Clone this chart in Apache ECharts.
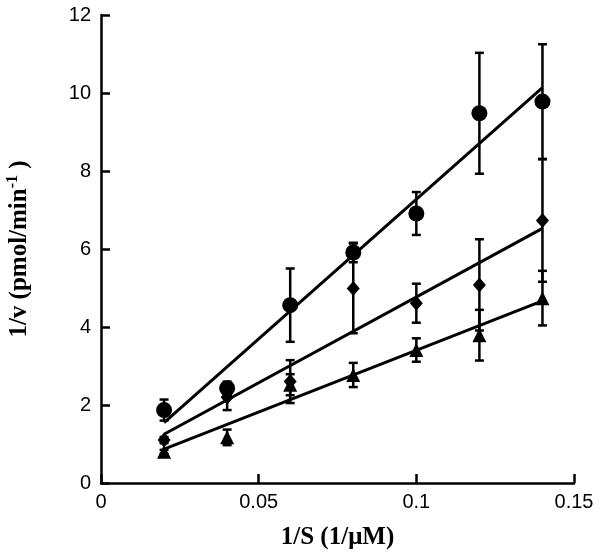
<!DOCTYPE html>
<html>
<head>
<meta charset="utf-8">
<script src="https://cdn.jsdelivr.net/npm/echarts@6/dist/echarts.min.js"></script>
<style>html,body{margin:0;padding:0;background:#fff;}#c{width:600px;height:555px;}</style>
</head>
<body>
<div id="c"></div>
<script>
// Data
var xValues = [0.02, 0.04, 0.06, 0.08, 0.10, 0.12, 0.14];
var circleY = [1.87, 2.43, 4.56, 5.91, 6.91, 9.48, 9.78];
var circleErr = [0.27, 0.17, 0.94, 0.25, 0.55, 1.55, 1.47];
var diamondY = [1.10, 2.20, 2.60, 4.99, 4.61, 5.08, 6.73];
var diamondErr = [0.08, 0.33, 0.55, 1.15, 0.50, 1.17, 1.57];
var triangleY = [0.80, 1.17, 2.52, 2.77, 3.41, 3.79, 4.74];
var triangleErr = [0.05, 0.20, 0.27, 0.31, 0.30, 0.65, 0.70];
var fitX = [0.02, 0.14];
var circleFit = [1.55, 10.14];
var diamondFit = [1.25, 6.53];
var triangleFit = [0.87, 4.67];
var xTicks = [0, 0.05, 0.1, 0.15];
var yTicks = [0, 2, 4, 6, 8, 10, 12];

function pts(xs, ys) { return xs.map(function (x, i) { return [x, ys[i]]; }); }
function errPts(xs, ys, es) { return xs.map(function (x, i) { return [x, ys[i], es[i]]; }); }

function renderErr(params, api) {
  var x = api.value(0), y = api.value(1), e = api.value(2);
  var t = api.coord([x, y + e]), b = api.coord([x, y - e]);
  var hw = 4.5;
  var st = { stroke: '#000', lineWidth: 2.5 };
  return {
    type: 'group',
    children: [
      { type: 'line', shape: { x1: t[0], y1: t[1], x2: b[0], y2: b[1] }, style: st },
      { type: 'line', shape: { x1: t[0] - hw, y1: t[1], x2: t[0] + hw, y2: t[1] }, style: st },
      { type: 'line', shape: { x1: b[0] - hw, y1: b[1], x2: b[0] + hw, y2: b[1] }, style: st }
    ]
  };
}

function errSeries(ys, es) {
  return { type: 'custom', renderItem: renderErr, data: errPts(xValues, ys, es), encode: { x: 0, y: 1 }, z: 3, silent: true };
}
function fitSeries(fit) {
  return { type: 'line', data: pts(fitX, fit), showSymbol: false, symbol: 'none', lineStyle: { color: '#000', width: 3 }, z: 2, silent: true };
}
function markSeries(ys, sym, size) {
  return { type: 'scatter', data: pts(xValues, ys), symbol: sym, symbolSize: size, itemStyle: { color: '#000', opacity: 1 }, z: 4, silent: true };
}

var chart = echarts.init(document.getElementById('c'), null, { renderer: 'canvas' });
var axisLabelStyle = { color: '#000', fontFamily: 'Liberation Sans', fontSize: 20 };
var nameStyle = { color: '#000', fontFamily: 'Liberation Serif', fontWeight: 'bold', fontSize: 25 };
chart.setOption({
  animation: false,
  backgroundColor: '#fff',
  grid: { left: 101, right: 26, top: 15, bottom: 72, containLabel: false, outerBoundsMode: 'none' },
  xAxis: {
    type: 'value', min: xTicks[0], max: xTicks[xTicks.length - 1], interval: 0.05,
    splitLine: { show: false },
    axisLine: { show: true, onZero: false, lineStyle: { color: '#000', width: 2.5 } },
    axisTick: { show: true, inside: true, length: 9, lineStyle: { color: '#000', width: 2.5 } },
    axisLabel: Object.assign({ margin: 9, formatter: function (v) { return String(Math.round(v * 100) / 100); } }, axisLabelStyle),
    name: '1/S (1/\u03bcM)', nameLocation: 'middle', nameGap: 42, nameTextStyle: nameStyle
  },
  yAxis: {
    type: 'value', min: yTicks[0], max: yTicks[yTicks.length - 1], interval: 2,
    splitLine: { show: false },
    axisLine: { show: true, onZero: false, lineStyle: { color: '#000', width: 2.5 } },
    axisTick: { show: true, inside: true, length: 9, lineStyle: { color: '#000', width: 2.5 } },
    axisLabel: Object.assign({ margin: 10 }, axisLabelStyle),
    name: '1/v (pmol/min{sup|-1} )', nameLocation: 'middle', nameGap: 67,
    nameTextStyle: Object.assign({
      rich: {
        sup: { color: '#000', fontFamily: 'Liberation Serif', fontWeight: 'bold', fontSize: 16, verticalAlign: 'top', padding: [0, 0, 13, 0] }
      }
    }, nameStyle)
  },
  series: [
    fitSeries(circleFit), fitSeries(diamondFit), fitSeries(triangleFit),
    errSeries(circleY, circleErr), errSeries(diamondY, diamondErr), errSeries(triangleY, triangleErr),
    markSeries(circleY, 'circle', 16), markSeries(diamondY, 'diamond', [13, 15]), markSeries(triangleY, 'triangle', 14)
  ]
});
</script>
</body>
</html>
